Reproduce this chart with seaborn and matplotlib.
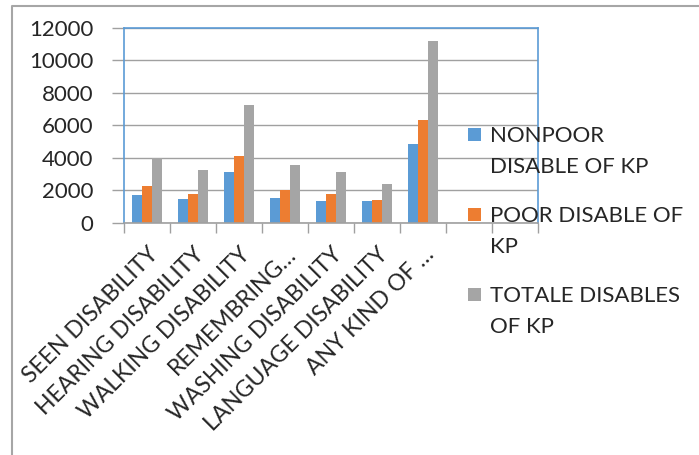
import matplotlib
matplotlib.use("Agg")
import matplotlib.pyplot as plt
from matplotlib.lines import Line2D
from matplotlib.patches import Rectangle
import seaborn as sns
import pandas as pd

# data
categories = ["SEEN DISABILITY", "HEARING DISABILITY", "WALKING DISABILITY",
              "REMEMBRING…", "WASHING DISABILITY", "LANGUAGE DISABILITY",
              "ANY KIND OF …"]
nonpoor = [1700, 1480, 3120, 1520, 1330, 1310, 4820]
poor = [2250, 1760, 4100, 2030, 1740, 1370, 6320]
totale = [3980, 3240, 7220, 3570, 3100, 2380, 11160]
series = ["NONPOOR DISABLE OF KP", "POOR DISABLE OF KP", "TOTALE DISABLES OF KP"]
legend_lines = [["NONPOOR", "DISABLE OF KP"], ["POOR DISABLE OF", "KP"],
                ["TOTALE DISABLES", "OF KP"]]
colors = ["#5B9BD5", "#ED7D31", "#A5A5A5"]

df = pd.DataFrame({
    "category": categories * 3,
    "series": [series[0]] * 7 + [series[1]] * 7 + [series[2]] * 7,
    "value": nonpoor + poor + totale,
})

sns.set_theme(style="white")
plt.rcParams["font.family"] = ["Lato", "DejaVu Sans"]

W, H = 699, 455
fig = plt.figure(figsize=(W / 100, H / 100), dpi=100)
ax = fig.add_axes([124 / W, 1 - 222.7 / H, (538 - 124) / W, (222.7 - 27.7) / H])

sns.barplot(data=df, x="category", y="value", hue="series", order=categories,
            hue_order=series, palette=colors, width=0.65, gap=0, linewidth=0,
            saturation=1, ax=ax, legend=False)

ax.set_xlim(-0.5, 8.5)
ax.set_ylim(0, 12000)
ax.set_yticks(range(0, 12001, 2000))
ax.set_xlabel("")
ax.set_ylabel("")
ax.grid(axis="y", color="#A0A0A0", linewidth=1)
ax.set_axisbelow(True)

for s in ["top", "right", "left"]:
    ax.spines[s].set_color("#5B9BD5")
    ax.spines[s].set_linewidth(1.2)
ax.spines["bottom"].set_color("#A0A0A0")
ax.spines["bottom"].set_linewidth(1.2)

ax.set_xticks(range(len(categories)))
ax.set_xticklabels(categories, rotation=45, ha="right", va="top",
                   rotation_mode="anchor", fontsize=16.5)
ax.set_xticks([i - 0.5 for i in range(10)], minor=True)
ax.tick_params(axis="x", which="major", length=0, pad=15)
ax.tick_params(axis="x", which="minor", length=7, width=1, color="#A0A0A0",
               direction="out", bottom=True)
ax.tick_params(axis="y", length=9, width=1, color="#A0A0A0", direction="out",
               left=True, pad=13, labelsize=16)

# legend: square marker next to the first line of a two-line label
for i, (lines, c) in enumerate(zip(legend_lines, colors)):
    top = 128 + 80 * i
    fig.add_artist(Rectangle((468 / W, 1 - (top + 13) / H), 13 / W, 13 / H,
                             facecolor=c, edgecolor="none",
                             transform=fig.transFigure))
    for k, line in enumerate(lines):
        fig.text(490 / W, 1 - (top + 14 + 31 * k) / H, line, fontsize=16,
                 ha="left", va="baseline")

# chart area border (cut off at right and bottom)
fig.add_artist(Line2D([12 / W, 12 / W, 1], [0, 1 - 5.5 / H, 1 - 5.5 / H],
                      color="#A6A6A6", linewidth=1.5, transform=fig.transFigure))

fig.savefig("out.png", dpi=100)
